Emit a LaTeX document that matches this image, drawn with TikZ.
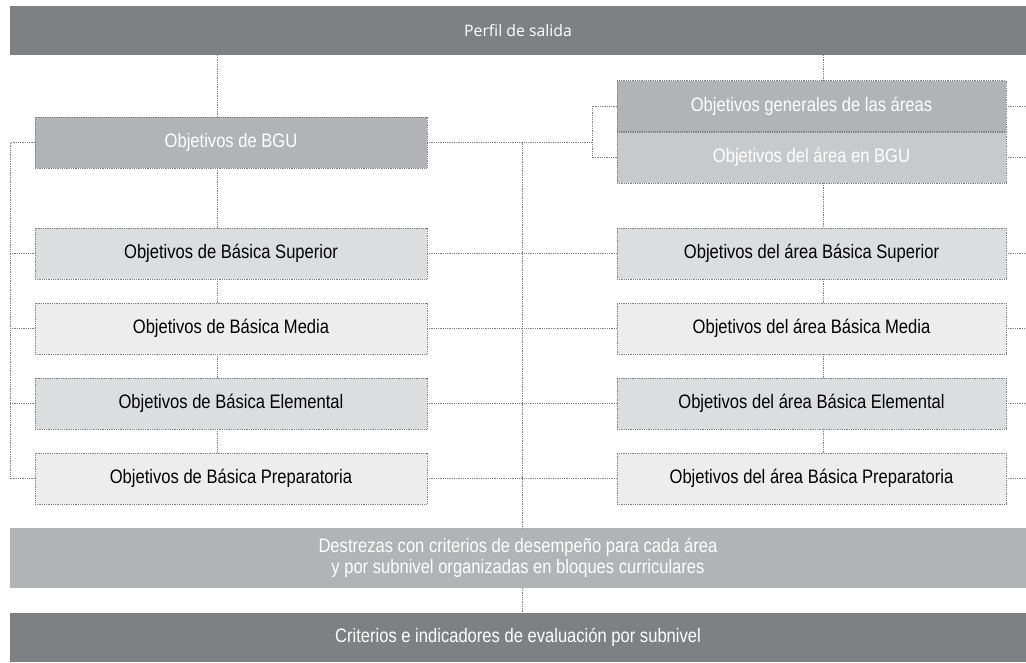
\documentclass[tikz,border=0pt]{standalone}
\usepackage{fontspec}
\setmainfont{Liberation Sans}[FakeStretch=0.85]
\newfontfamily\perfilfont{Open Sans}
\usetikzlibrary{positioning}

\definecolor{barGray}{HTML}{7E8184}
\definecolor{midGray}{HTML}{B1B3B6}
\definecolor{paleGray}{HTML}{C8C9CB}
\definecolor{lightGray}{HTML}{DCDDDF}
\definecolor{whiteGray}{HTML}{EDEDED}
\definecolor{lineGray}{HTML}{808080}

\begin{document}
\begin{tikzpicture}
  [x=1pt,y=-1pt,
   bar/.style={rectangle,inner sep=0pt,outer sep=0pt,minimum width=1016pt,
     text=white,font=\fontsize{19.5}{21}\selectfont},
   obj box/.style={rectangle,draw=lineGray,densely dotted,line width=0.8pt,
     inner sep=0pt,outer sep=0pt,minimum height=51pt,
     font=\fontsize{19.5}{21}\selectfont},
   left box/.style={obj box,minimum width=392pt},
   right box/.style={obj box,minimum width=389pt},
   conn/.style={draw=lineGray,densely dotted,line width=0.8pt}]
  \useasboundingbox[fill=white] (0,0) rectangle (1026,662);

  % bars
  \node[bar,fill=barGray,minimum height=49pt,font=\perfilfont\fontsize{15.8}{18}\selectfont]
    (perfil) at (518,30.5) {Perfil de salida};
  \node[bar,fill=midGray,minimum height=60pt,align=center]
    (dest) at (518,558) {Destrezas con criterios de desempeño para cada área\\
      y por subnivel organizadas en bloques curriculares};
  \node[bar,fill=barGray,minimum height=49pt] (crit) at (518,637.5)
    {Criterios e indicadores de evaluación por subnivel};

  % left column
  \node[left box,fill=midGray,text=white] (bgu) at (231,142.5) {Objetivos de BGU};
  \node[left box,fill=lightGray] (sup) at (231,253.5) {Objetivos de Básica Superior};
  \node[left box,fill=whiteGray] (med) at (231,328.5) {Objetivos de Básica Media};
  \node[left box,fill=lightGray] (ele) at (231,403.5) {Objetivos de Básica Elemental};
  \node[left box,fill=whiteGray] (pre) at (231,478.5) {Objetivos de Básica Preparatoria};

  % right column
  \node[right box,fill=midGray,text=white] (gen) at (811.5,106)
    {Objetivos generales de las áreas};
  \node[right box,fill=paleGray,text=white] (abgu) at (811.5,157.5)
    {Objetivos del área en BGU};
  \node[right box,fill=lightGray] (asup) at (811.5,253.5) {Objetivos del área Básica Superior};
  \node[right box,fill=whiteGray] (amed) at (811.5,328.5) {Objetivos del área Básica Media};
  \node[right box,fill=lightGray] (aele) at (811.5,403.5) {Objetivos del área Básica Elemental};
  \node[right box,fill=whiteGray] (apre) at (811.5,478.5) {Objetivos del área Básica Preparatoria};

  \coordinate (lv) at (217,0);
  \coordinate (rv) at (823,0);
  \coordinate (cv) at (522,0);
  \coordinate (lb) at (10,0);
  \coordinate (rb) at (592,0);
  \coordinate (edge) at (1026,0);

  % vertical links
  \path[conn] (perfil.south -| lv) edge (bgu.north -| lv)
    (bgu.south -| lv) edge (sup.north -| lv)
    (sup.south -| lv) edge (med.north -| lv)
    (med.south -| lv) edge (ele.north -| lv)
    (ele.south -| lv) edge (pre.north -| lv);
  \path[conn] (perfil.south -| rv) edge (gen.north -| rv)
    (abgu.south -| rv) edge (asup.north -| rv)
    (asup.south -| rv) edge (amed.north -| rv)
    (amed.south -| rv) edge (aele.north -| rv)
    (aele.south -| rv) edge (apre.north -| rv);
  \path[conn] (bgu.east -| cv) edge (dest.north -| cv)
    (dest.south -| cv) edge (crit.north -| cv);

  % brackets
  \draw[conn] (bgu.west) -- (bgu.west -| lb) -- (pre.west -| lb) -- (pre.west);
  \path[conn] (sup.west -| lb) edge (sup.west)
    (med.west -| lb) edge (med.west)
    (ele.west -| lb) edge (ele.west);
  \draw[conn] (gen.west) -- (gen.west -| rb) -- (abgu.west -| rb) -- (abgu.west);
  \path[conn] (bgu.east) edge (bgu.east -| rb);

  % across
  \path[conn] (sup.east) edge (asup.west)
    (med.east) edge (amed.west)
    (ele.east) edge (aele.west)
    (pre.east) edge (apre.west);
  \path[conn] (gen.east) edge (gen.east -| edge)
    (abgu.east) edge (abgu.east -| edge)
    (asup.east) edge (asup.east -| edge)
    (amed.east) edge (amed.east -| edge)
    (aele.east) edge (aele.east -| edge)
    (apre.east) edge (apre.east -| edge);
\end{tikzpicture}
\end{document}
